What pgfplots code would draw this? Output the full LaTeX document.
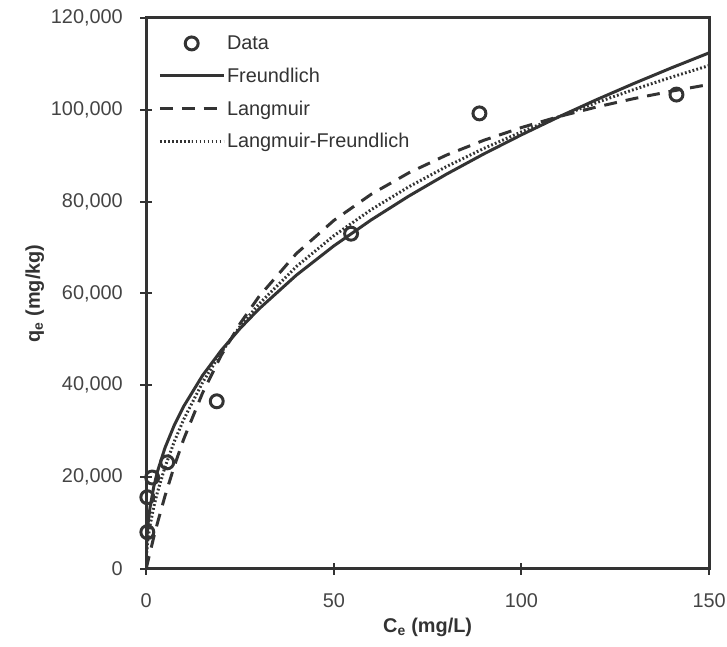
\documentclass[border=0pt]{standalone}
\usepackage{pgfplots}
\pgfplotsset{compat=1.18}
\usepackage{fontspec}
\setmainfont{Liberation Sans}
\usetikzlibrary{calc}
\definecolor{ax}{HTML}{333333}
\definecolor{lab}{HTML}{444444}
\begin{document}
\begin{tikzpicture}
\begin{axis}[name=ax,
  scale only axis, width=566pt, height=554pt,
  xmin=0, xmax=150, ymin=0, ymax=120000,
  scaled x ticks=false, scaled y ticks=false,
  xtick={0,50,100,150}, ytick={0,20000,40000,60000,80000,100000,120000},
  xticklabels={0,50,100,150},
  yticklabels={0,{20,000},{40,000},{60,000},{80,000},{100,000},{120,000}},
  tick label style={font=\fontsize{20}{24}\selectfont, text=lab},
  axis line style={ax, line width=3pt},
  every tick/.style={ax, line width=2pt},
  tick align=center, major tick length=12pt,
  xtick pos=bottom, ytick pos=left,
  xticklabel style={yshift=-15pt},
  yticklabel style={xshift=-14pt},
  xlabel={\textbf{C\textsubscript{e} (mg/L)}},
  ylabel={\textbf{q\textsubscript{e} (mg/kg)}},
  label style={font=\fontsize{20}{24}\selectfont, text=ax},
  xlabel style={yshift=-4pt},
  clip=true,
  legend cell align=left,
  legend style={draw=none, fill=none, at={(0.016,0.975)}, anchor=north west,
    font=\fontsize{20}{24}\selectfont, text=ax, row sep=13pt,
    /tikz/every even column/.append style={column sep=4pt}},
  legend image code/.code={\draw[mark repeat=2,mark phase=2,#1] plot coordinates {(0pt,0pt) (32pt,0pt) (64pt,0pt)};},
]
\addplot[only marks, mark=o, mark size=6.5pt, mark options={line width=3pt, draw=ax}] coordinates {
(0.3,8000) (0.3,15600) (1.6,19900) (5.6,23200) (18.8,36500) (54.6,73000) (88.8,99200) (141.3,103300)};
\addlegendentry{Data}
\addplot[ax, line width=3pt] coordinates {
(0,0) (0.1,4968) (0.25,7342) (0.5,9868) (1,13262) (2,17823) (3,21189) (5,26347) (7.5,31322) (10,35407) (15,42096) (20,47588) (25,52341) (30,56574) (40,63956) (50,70342) (60,76030) (70,81199) (80,85955) (90,90387) (100,94535) (110,98465) (120,102186) (130,105731) (140,109128) (150,112384)};
\addlegendentry{Freundlich}
\addplot[ax, line width=3pt, dash pattern=on 13pt off 9pt] coordinates {
(0,0) (0.1,359) (0.25,895) (0.5,1778) (1,3508) (2,6833) (3,9989) (5,15843) (7.5,22411) (10,28269) (15,38276) (20,46508) (25,53399) (30,59252) (40,68658) (50,75884) (60,81612) (70,86260) (80,90114) (90,93354) (100,96121) (110,98513) (120,100594) (130,102428) (140,104047) (150,105497)};
\addlegendentry{Langmuir}
\addplot[ax, line width=3pt, dash pattern=on 1.8pt off 2.2pt] coordinates {
(0,0) (0.1,3125) (0.25,4763) (0.5,6632) (1,9360) (2,13427) (3,16709) (5,22145) (7.5,27757) (10,32552) (15,40568) (20,47156) (25,52765) (30,57645) (40,65837) (50,72559) (60,78263) (70,83223) (80,87619) (90,91574) (100,95169) (110,98484) (120,101550) (130,104410) (140,107096) (150,109629)};
\addlegendentry{Langmuir-Freundlich}
\end{axis}
\pgfresetboundingbox
\path ($(ax.south west)+(-147pt,-78pt)$) rectangle ($(ax.north east)+(18pt,18pt)$);
\end{tikzpicture}
\end{document}
